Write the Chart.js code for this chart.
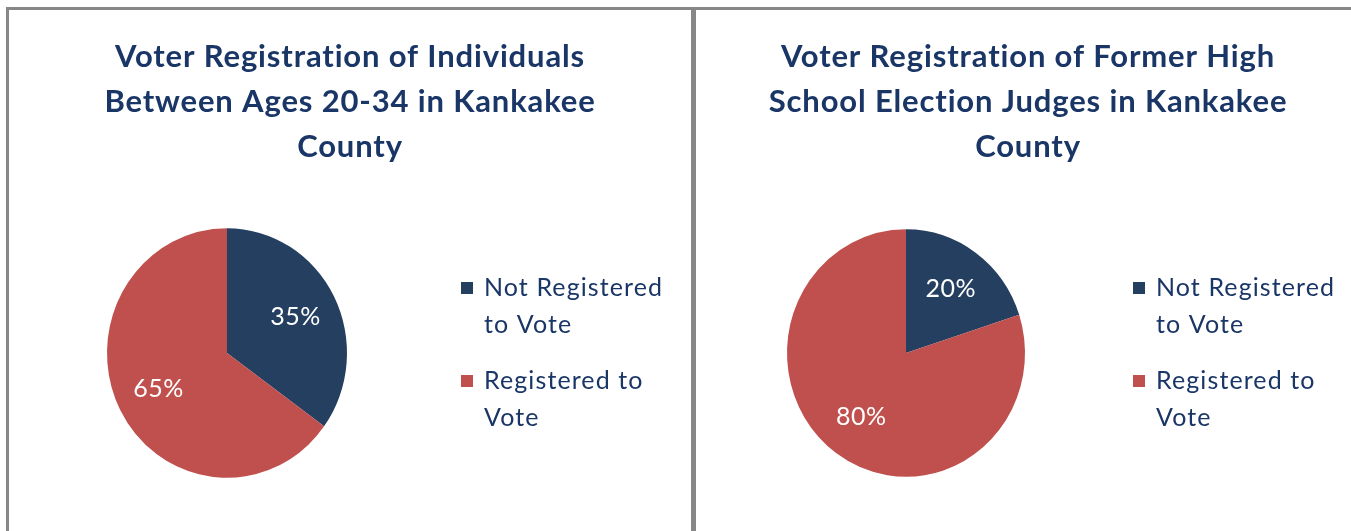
<!DOCTYPE html>
<html>
<head>
<meta charset="utf-8">
<script src="https://cdn.jsdelivr.net/npm/chart.js@4/dist/chart.umd.min.js"></script>
<style>
  html, body { margin: 0; padding: 0; background: #fff; }
  body { width: 1351px; height: 531px; position: relative; overflow: hidden; }
  .rule { position: absolute; background: #878787; }
  .panel { position: absolute; top: 10px; height: 521px; }
  .panel canvas { display: block; }
</style>
</head>
<body>
<div class="rule" style="left:6px; top:7px; width:1345px; height:3px;"></div>
<div class="rule" style="left:6px; top:7px; width:3px; height:524px;"></div>
<div class="rule" style="left:691px; top:7px; width:5px; height:524px;"></div>

<div class="panel" style="left:9px; width:682px;"><canvas id="ageChart" width="682" height="521"></canvas></div>
<div class="panel" style="left:696px; width:655px;"><canvas id="judgeChart" width="655" height="521"></canvas></div>

<script>
const categories = ["Not Registered to Vote", "Registered to Vote"];
const legendLines = [["Not Registered", "to Vote"], ["Registered to", "Vote"]];
const ageValues = [35, 65];
const judgeValues = [20, 80];
const ageTitle = ["Voter Registration of Individuals", "Between Ages 20-34 in Kankakee", "County"];
const judgeTitle = ["Voter Registration of Former High", "School Election Judges in Kankakee", "County"];

const sliceColors = ["#243F60", "#C0504D"];
const textColor = "#1A3666";
const fontFamily = "Lato, 'Open Sans', sans-serif";
const yStretch = 1.04; // pie is drawn slightly taller than wide

// stretch the pie vertically around its centre
const stretchPie = {
  id: "stretchPie",
  beforeDatasetsDraw(chart) {
    const a = chart.chartArea;
    const cy = (a.top + a.bottom) / 2;
    chart.ctx.save();
    chart.ctx.translate(0, cy);
    chart.ctx.scale(1, yStretch);
    chart.ctx.translate(0, -cy);
  },
  afterDatasetsDraw(chart) {
    chart.ctx.restore();
  }
};

// title, legend and percent labels drawn on top of the pie
const panelText = {
  id: "panelText",
  afterDraw(chart, args, opts) {
    const ctx = chart.ctx;
    const total = chart.data.datasets[0].data.reduce((a, b) => a + b, 0);
    ctx.save();

    // title
    ctx.fillStyle = textColor;
    ctx.font = "bold 31px " + fontFamily;
    ctx.letterSpacing = "0.85px";
    ctx.textAlign = "center";
    ctx.textBaseline = "middle";
    opts.title.forEach((line, i) => ctx.fillText(line, opts.titleX, 47 + i * 45));

    // percent labels inside slices
    ctx.fillStyle = "#ffffff";
    ctx.font = "25px " + fontFamily;
    ctx.letterSpacing = "0.5px";
    chart.getDatasetMeta(0).data.forEach((arc, i) => {
      const p = arc.getProps(["x", "y", "startAngle", "endAngle", "outerRadius"]);
      const mid = (p.startAngle + p.endAngle) / 2;
      const r = p.outerRadius * 0.64;
      const v = chart.data.datasets[0].data[i];
      ctx.fillText(Math.round(v / total * 100) + "%", p.x + Math.cos(mid) * r, p.y + Math.sin(mid) * r * yStretch);
    });

    // legend
    ctx.textAlign = "left";
    ctx.font = "25px " + fontFamily;
    ctx.letterSpacing = "1.1px";
    legendLines.forEach((lines, i) => {
      const top = 278 + i * 93;
      ctx.fillStyle = sliceColors[i];
      ctx.fillRect(opts.legendX, top - 6, 12, 12);
      ctx.fillStyle = textColor;
      lines.forEach((line, j) => ctx.fillText(line, opts.legendX + 23, top + j * 37));
    });
    ctx.restore();
  }
};

function makePie(id, values, title, pad, titleX, legendX) {
  return new Chart(document.getElementById(id), {
    type: "pie",
    data: {
      labels: categories,
      datasets: [{
        data: values,
        backgroundColor: sliceColors,
        borderWidth: 0
      }]
    },
    options: {
      responsive: false,
      animation: false,
      layout: { padding: pad },
      plugins: {
        legend: { display: false },
        tooltip: { enabled: false },
        panelText: { title: title, titleX: titleX, legendX: legendX }
      }
    },
    plugins: [stretchPie, panelText]
  });
}

makePie("ageChart", ageValues, ageTitle, { left: 98, top: 223, right: 344, bottom: 58 }, 341, 452);
makePie("judgeChart", judgeValues, judgeTitle, { left: 91, top: 224, right: 326, bottom: 59 }, 332, 437);
</script>
</body>
</html>
